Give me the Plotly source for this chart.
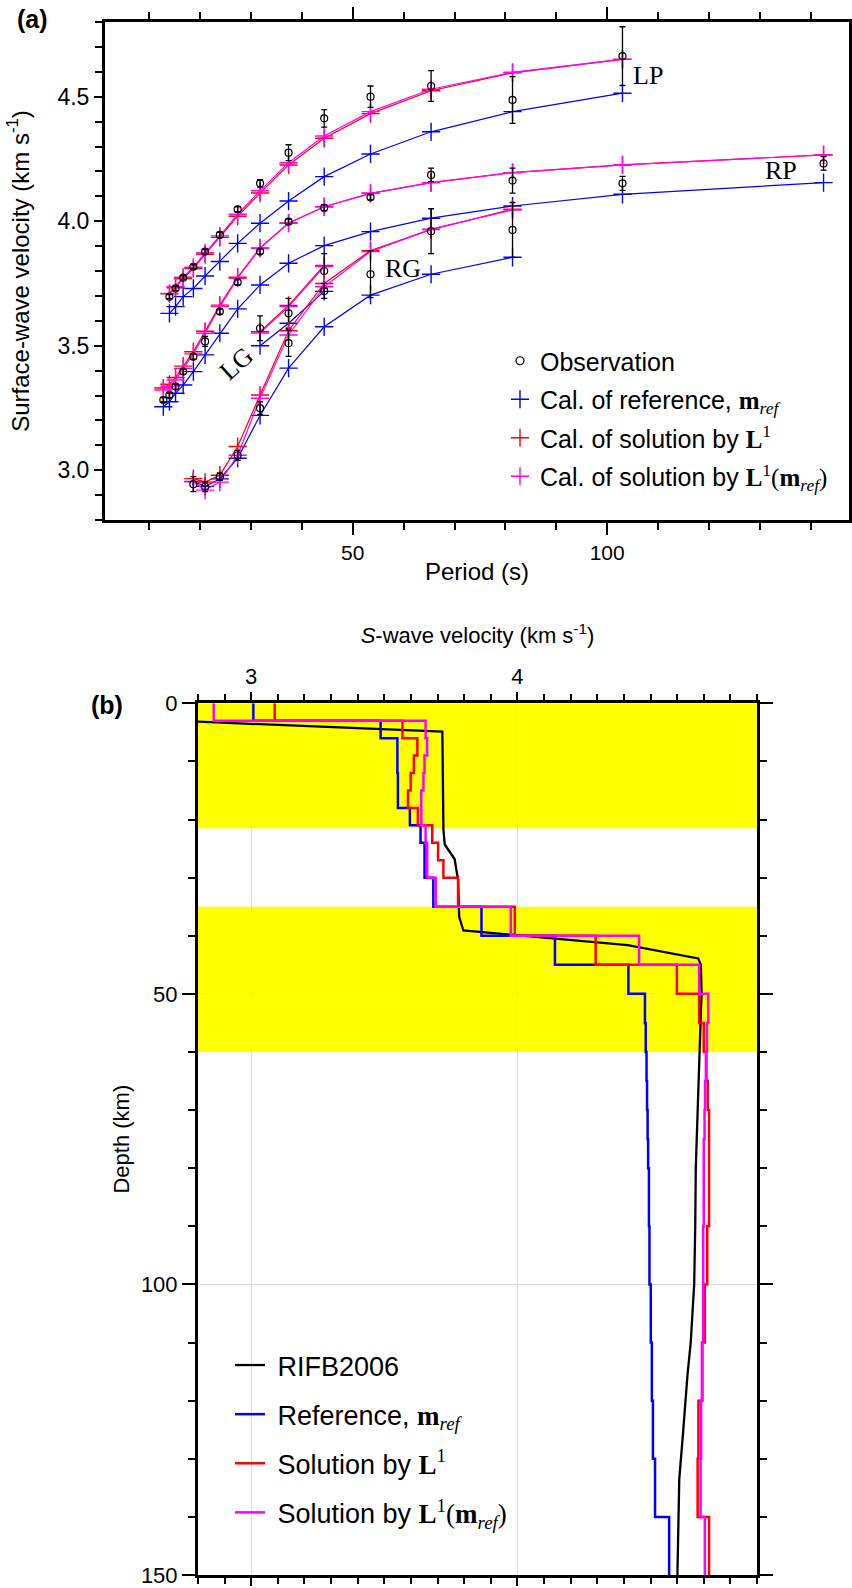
import plotly.graph_objects as go

# ---------------- (a) surface-wave dispersion ----------------
# Love phase (LP)
lp_period = [14.0, 15.2, 16.7, 18.7, 21.0, 23.9, 27.4, 31.8, 37.4, 44.4, 53.5, 65.4, 81.4, 103.0]
lp_obs = [3.697, 3.730, 3.773, 3.817, 3.878, 3.945, 4.048, 4.152, 4.275, 4.413, 4.500, 4.543, 4.487, 4.663]
lp_err = [0.008, 0.008, 0.008, 0.008, 0.008, 0.010, 0.010, 0.015, 0.032, 0.035, 0.043, 0.062, 0.094, 0.118]
lp_ref = [3.630, 3.657, 3.697, 3.730, 3.780, 3.838, 3.911, 3.992, 4.081, 4.179, 4.270, 4.359, 4.440, 4.514]
lp_l1 = [3.708, 3.733, 3.770, 3.810, 3.867, 3.935, 4.020, 4.113, 4.226, 4.333, 4.432, 4.524, 4.596, 4.650]
lp_l1m = [3.710, 3.737, 3.775, 3.815, 3.873, 3.941, 4.028, 4.122, 4.235, 4.342, 4.440, 4.530, 4.598, 4.651]

# Rayleigh phase (RP)
rp_period = [12.8, 14.0, 15.2, 16.7, 18.7, 21.0, 23.9, 27.4, 31.8, 37.4, 44.4, 53.5, 65.4, 81.4, 103.0, 142.5]
rp_obs = [3.282, 3.302, 3.336, 3.396, 3.456, 3.517, 3.637, 3.755, 3.878, 3.998, 4.054, 4.096, 4.186, 4.163, 4.152, 4.232]
rp_err = [0.010, 0.010, 0.010, 0.010, 0.010, 0.020, 0.010, 0.010, 0.010, 0.010, 0.012, 0.010, 0.027, 0.050, 0.028, 0.027]
rp_ref = [3.255, 3.275, 3.309, 3.342, 3.396, 3.463, 3.550, 3.648, 3.744, 3.831, 3.902, 3.958, 4.012, 4.061, 4.108, 4.155]
rp_l1 = [3.330, 3.345, 3.372, 3.418, 3.476, 3.558, 3.663, 3.775, 3.893, 3.993, 4.058, 4.112, 4.155, 4.195, 4.226, 4.266]
rp_l1m = [3.322, 3.336, 3.362, 3.409, 3.467, 3.550, 3.657, 3.771, 3.891, 3.992, 4.058, 4.112, 4.155, 4.195, 4.226, 4.266]

# Love group (LG)
lg_period = [31.8, 37.4, 44.4]
lg_obs = [3.570, 3.630, 3.800]
lg_err = [0.050, 0.060, 0.070]
lg_ref = [3.500, 3.590, 3.718]
lg_l1 = [3.556, 3.662, 3.822]
lg_l1m = [3.551, 3.657, 3.818]

# Rayleigh group (RG)
rg_period = [18.7, 21.0, 23.9, 27.4, 31.8, 37.4, 44.4, 53.5, 65.4, 81.4]
rg_obs = [2.944, 2.934, 2.974, 3.060, 3.249, 3.510, 3.720, 3.787, 3.960, 3.965]
rg_err = [0.030, 0.020, 0.015, 0.020, 0.025, 0.053, 0.030, 0.094, 0.090, 0.110]
rg_ref = [2.955, 2.935, 2.965, 3.048, 3.220, 3.410, 3.576, 3.703, 3.787, 3.855]
rg_l1 = [2.966, 2.952, 2.980, 3.095, 3.302, 3.560, 3.750, 3.882, 3.966, 4.048]
rg_l1m = [2.953, 2.920, 2.952, 3.060, 3.289, 3.543, 3.737, 3.878, 3.968, 4.045]

curve_labels = ["LP", "RP", "RG", "LG"]
label_period = [108.0, 134.2, 59.9, 27.2]
label_vel = [4.587, 4.202, 3.812, 3.429]
label_angle = [0, 0, 0, -42]

# ---------------- (b) S-wave velocity profiles ----------------
layer_top = [0, 3, 6, 9, 12, 15, 18, 21, 24, 27, 30, 35, 40, 45, 50, 55, 60, 65, 70, 75,
             80, 90, 100, 110, 120, 130, 140]
bottom_depth = 150
vs_ref = [3.008, 3.486, 3.549, 3.549, 3.551, 3.551, 3.596, 3.636, 3.651, 3.651, 3.684, 3.865, 4.141,
          4.417, 4.479, 4.482, 4.485, 4.487, 4.489, 4.491, 4.494, 4.496, 4.501, 4.505, 4.509, 4.517, 4.570]
vs_l1 = [3.088, 3.568, 3.624, 3.611, 3.599, 3.589, 3.626, 3.680, 3.702, 3.722, 3.777, 3.990, 4.294,
         4.599, 4.683, 4.700, 4.710, 4.715, 4.720, 4.720, 4.720, 4.713, 4.704, 4.695, 4.680, 4.677, 4.720]
vs_l1m = [2.859, 3.655, 3.661, 3.651, 3.647, 3.639, 3.639, 3.655, 3.661, 3.661, 3.693, 3.975, 4.457,
          4.683, 4.717, 4.712, 4.708, 4.705, 4.703, 4.700, 4.700, 4.698, 4.698, 4.693, 4.690, 4.688, 4.704]

rifb_vs = [2.800, 3.718, 3.722, 3.727, 3.764, 3.777, 3.781, 3.797, 4.414, 4.679, 4.689, 4.692, 4.690,
           4.685, 4.677, 4.670, 4.668, 4.664, 4.651, 4.639, 4.624, 4.608, 4.601]
rifb_depth = [3.16, 4.88, 21.8, 24.3, 26.8, 30.4, 36.7, 39.1, 41.6, 43.9, 45.0, 50.0, 52.0,
              60.0, 70.0, 80.0, 90.0, 100.0, 110.0, 115.5, 124.5, 133.5, 150.0]

band_top = [0, 35]
band_bottom = [21.5, 60]

BLUE, RED, MAG = "#0000ff", "#ff0000", "#ff00ff"
SANS = "Liberation Sans, Arial, sans-serif"
SERIF = "Liberation Serif"
NBSP = "\u00a0"

m_ref = f"<span style='font-family:{SERIF}'><b>m</b><sub><i>ref</i></sub></span>"
l1 = f"<span style='font-family:{SERIF}'><b>L</b><sup>1</sup></span>"
l1_mref = (f"<span style='font-family:{SERIF}'><b>L</b><sup>1</sup>(<b>m</b>"
           f"<sub><i>ref</i></sub>)</span>")

fig = go.Figure()

groups = [
    (lp_period, lp_obs, lp_err, lp_ref, lp_l1, lp_l1m),
    (rp_period, rp_obs, rp_err, rp_ref, rp_l1, rp_l1m),
    (lg_period, lg_obs, lg_err, lg_ref, lg_l1, lg_l1m),
    (rg_period, rg_obs, rg_err, rg_ref, rg_l1, rg_l1m),
]


def cross(color):
    return dict(symbol="cross-thin", size=13, color=color, line=dict(width=1.4, color=color))


for per, obs, err, ref, sol, solm in groups:
    for vals, col in ((ref, BLUE), (sol, RED), (solm, MAG)):
        fig.add_trace(go.Scatter(
            x=per, y=vals, mode="lines+markers", xaxis="x", yaxis="y",
            line=dict(color=col, width=1.2), marker=cross(col),
            showlegend=False, hoverinfo="skip"))
    fig.add_trace(go.Scatter(
        x=per, y=obs, mode="markers", xaxis="x", yaxis="y",
        marker=dict(symbol="circle-open", size=7, color="black", line=dict(width=1.2, color="black")),
        error_y=dict(type="data", array=err, visible=True, color="black", thickness=1.3, width=3),
        showlegend=False, hoverinfo="skip"))

# legend entries of panel (a): symbols only
legend_a = [
    ("Observation", dict(symbol="circle-open", size=8, color="black", line=dict(width=1.2, color="black"))),
    ("Cal. of reference, " + m_ref, cross(BLUE)),
    ("Cal. of solution by " + l1, cross(RED)),
    ("Cal. of solution by " + l1_mref, cross(MAG)),
]
for i, (name, mk) in enumerate(legend_a):
    fig.add_trace(go.Scatter(
        x=[None], y=[None], mode="markers", xaxis="x", yaxis="y", name=name, marker=mk,
        legend="legend", legendgroup=f"a{i}", showlegend=True))

annotations = []
for txt, px, vy, ang in zip(curve_labels, label_period, label_vel, label_angle):
    annotations.append(dict(x=px, y=vy, xref="x", yref="y", text=txt, showarrow=False,
                            textangle=ang, font=dict(family=SERIF, size=26, color="black")))


# panel (b): step profiles
def step_xy(vals):
    return list(vals) + [vals[-1]], list(layer_top) + [bottom_depth]


fig.add_trace(go.Scatter(
    x=rifb_vs, y=rifb_depth, mode="lines", xaxis="x2", yaxis="y2", name=NBSP + "RIFB2006",
    line=dict(color="black", width=2.3), legend="legend2", legendgroup="b0", hoverinfo="skip"))
for i, (vals, col, name) in enumerate(((vs_ref, BLUE, "Reference, " + m_ref),
                                       (vs_l1, RED, "Solution by " + l1),
                                       (vs_l1m, MAG, "Solution by " + l1_mref))):
    xs, ys = step_xy(vals)
    fig.add_trace(go.Scatter(
        x=xs, y=ys, mode="lines", xaxis="x2", yaxis="y2", name=NBSP + name,
        line=dict(color=col, width=2.5, shape="vh"), legend="legend2",
        legendgroup=f"b{i + 1}", hoverinfo="skip"))

shapes = []
for t, b in zip(band_top, band_bottom):
    shapes.append(dict(type="rect", xref="x2 domain", yref="y2", x0=0, x1=1, y0=t, y1=b,
                       fillcolor="#ffff00", line=dict(width=0), layer="below"))

annotations.append(dict(x=32.5 / 852, y=1 - 19 / 1588, xref="paper", yref="paper", text="<b>(a)</b>",
                        xanchor="center", yanchor="middle", showarrow=False,
                        font=dict(family=SANS, size=25, color="black")))
annotations.append(dict(x=107 / 852, y=1 - 705 / 1588, xref="paper", yref="paper", text="<b>(b)</b>",
                        xanchor="center", yanchor="middle", showarrow=False,
                        font=dict(family=SANS, size=25, color="black")))

W, H = 852, 1588
axis_common = dict(showline=True, linecolor="black", linewidth=3, ticks="outside", tickcolor="black",
                   tickwidth=1.5, zeroline=False, automargin=False)

fig.update_layout(
    width=W, height=H, margin=dict(l=0, r=0, t=0, b=0),
    paper_bgcolor="white", plot_bgcolor="rgba(0,0,0,0)",
    font=dict(family=SANS, color="black"),
    xaxis=dict(**axis_common, domain=[105 / W, 849 / W], anchor="y", range=[1.34, 147.5],
               tickvals=[50, 100], ticklen=12, mirror="ticks", showgrid=False,
               tickfont=dict(family=SANS, size=21, color="black"),
               minor=dict(dtick=10, tick0=0, ticklen=7, ticks="outside", tickcolor="black", tickwidth=1.5),
               title=dict(text="Period (s)", font=dict(family=SANS, size=24), standoff=0)),
    yaxis=dict(**axis_common, domain=[1 - 520 / H, 1 - 22 / H], anchor="x", range=[2.8, 4.8],
               dtick=0.5, tick0=0, tickformat=".1f", ticklen=8, mirror=True, showgrid=False,
               tickfont=dict(family=SANS, size=23, color="black"),
               minor=dict(dtick=0.1, tick0=0, ticklen=7, ticks="outside", tickcolor="black", tickwidth=1.5),
               title=dict(text="Surface-wave velocity (km s<sup>-1</sup>)", font=dict(family=SANS, size=24),
                          standoff=22)),
    xaxis2=dict(**axis_common, domain=[198 / W, 757 / W], anchor="y2", side="top", range=[2.8, 4.9],
                dtick=1, tick0=0, ticklen=8, mirror="ticks", showgrid=True, gridcolor="#dcdcdc", gridwidth=1,
                tickfont=dict(family=SANS, size=22, color="black"),
                minor=dict(dtick=0.1, tick0=0, ticklen=6, ticks="outside", tickcolor="black", tickwidth=1.5),
                title=dict(text="<i>S</i>-wave velocity (km s<sup>-1</sup>)", font=dict(family=SANS, size=22),
                           standoff=14)),
    yaxis2=dict(**axis_common, domain=[1 - 1575 / H, 1 - 703.3 / H], anchor="x2", range=[150, 0],
                dtick=50, tick0=0, ticklen=13, mirror="ticks", showgrid=True, gridcolor="#dcdcdc", gridwidth=1,
                tickfont=dict(family=SANS, size=22, color="black"),
                minor=dict(dtick=10, tick0=0, ticklen=7, ticks="outside", tickcolor="black", tickwidth=1.5),
                title=dict(text="Depth (km)", font=dict(family=SANS, size=22), standoff=6)),
    legend=dict(x=500 / W, y=1 - 338 / H, xanchor="left", yanchor="top", bgcolor="rgba(0,0,0,0)",
                font=dict(family=SANS, size=25, color="black"), traceorder="grouped", tracegroupgap=3),
    legend2=dict(x=230 / W, y=1 - 1341 / H, xanchor="left", yanchor="top", bgcolor="rgba(0,0,0,0)",
                 font=dict(family=SANS, size=27, color="black"), traceorder="grouped", tracegroupgap=11),
    shapes=shapes, annotations=annotations,
)

fig.write_html("out.html")
